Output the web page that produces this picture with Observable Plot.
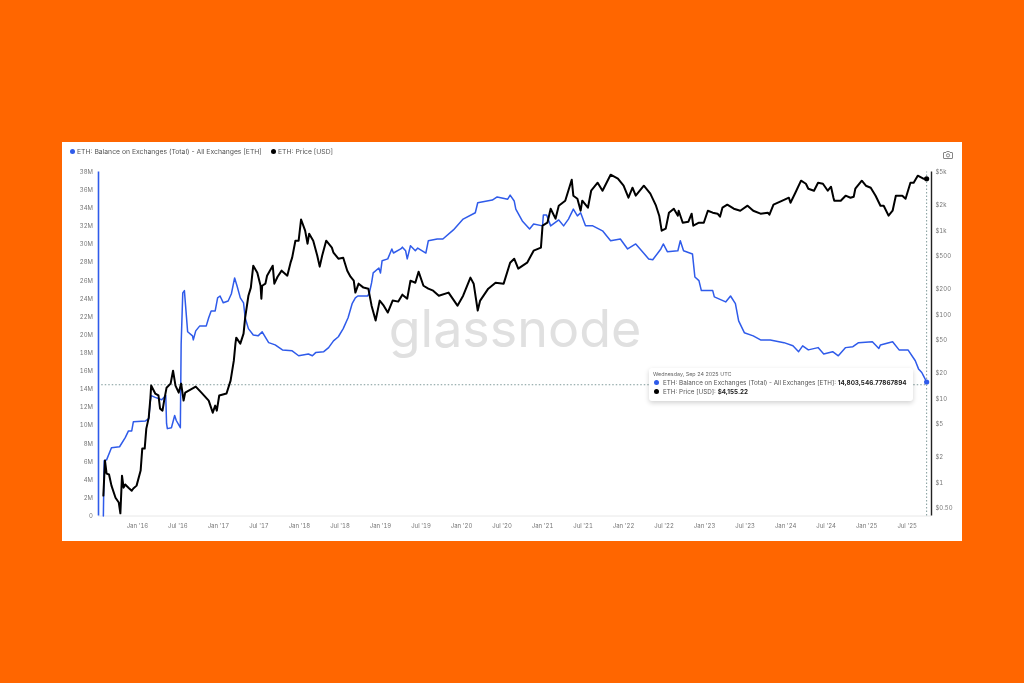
<!DOCTYPE html>
<html><head><meta charset="utf-8">
<script src="https://cdn.jsdelivr.net/npm/d3@7"></script>
<script src="https://cdn.jsdelivr.net/npm/@observablehq/plot@0.6"></script>
<style>
html,body{margin:0;padding:0;width:1024px;height:683px;background:#ff6600;overflow:hidden;font-family:Inter,sans-serif}
#panel{position:absolute;left:62px;top:142px;width:900px;height:399px;background:#fff;filter:blur(.45px)}
#panel svg.chart{position:absolute;left:0;top:0;background:transparent}
.leg{position:absolute;top:5px;font-size:6.8px;line-height:9px;color:#555;white-space:nowrap}
.dot{display:inline-block;width:5px;height:5px;border-radius:50%;margin-right:2px;vertical-align:0}
#tip{position:absolute;left:587px;top:226px;width:264px;height:33px;background:#fff;border-radius:3px;box-shadow:0 2px 5px rgba(0,0,0,.18);font-size:6.3px;color:#555}
#tip div{position:absolute;left:5px;white-space:nowrap;line-height:9px}
#tip b{color:#222;font-weight:700}
#cam{position:absolute;left:881px;top:9px}
</style></head>
<body><div id="panel">
<div class="leg" style="left:8px"><span class="dot" style="background:#2f5bea"></span>ETH: Balance on Exchanges (Total) - All Exchanges [ETH]</div>
<div class="leg" style="left:209px"><span class="dot" style="background:#000"></span>ETH: Price [USD]</div>
<svg id="cam" width="10" height="8" viewBox="0 0 10 8"><path d="M1 1.5h2l.7-1h2.6l.7 1h2a.5.5 0 0 1 .5.5v5a.5.5 0 0 1-.5.5H1a.5.5 0 0 1-.5-.5V2a.5.5 0 0 1 .5-.5z" fill="none" stroke="#777" stroke-width=".9"/><circle cx="5" cy="4.4" r="1.6" fill="none" stroke="#777" stroke-width=".9"/></svg>
</div>
<script>
const balanceYears=[2015.58,2015.59,2015.62,2015.68,2015.78,2015.85,2015.89,2015.93,2015.95,2016.10,2016.14,2016.16,2016.17,2016.22,2016.30,2016.35,2016.36,2016.37,2016.42,2016.46,2016.48,2016.53,2016.54,2016.56,2016.58,2016.62,2016.68,2016.69,2016.72,2016.77,2016.85,2016.88,2016.91,2016.96,2016.99,2017.02,2017.06,2017.12,2017.16,2017.20,2017.23,2017.27,2017.31,2017.33,2017.37,2017.43,2017.49,2017.54,2017.59,2017.62,2017.70,2017.79,2017.91,2017.99,2018.11,2018.16,2018.20,2018.30,2018.36,2018.42,2018.48,2018.54,2018.60,2018.65,2018.69,2018.72,2018.84,2018.86,2018.89,2018.91,2018.98,2019.00,2019.02,2019.09,2019.14,2019.16,2019.25,2019.27,2019.31,2019.33,2019.37,2019.43,2019.46,2019.56,2019.59,2019.70,2019.77,2019.90,2020.02,2020.17,2020.20,2020.38,2020.44,2020.57,2020.60,2020.65,2020.67,2020.75,2020.84,2020.89,2021.00,2021.01,2021.05,2021.10,2021.20,2021.26,2021.32,2021.38,2021.43,2021.47,2021.53,2021.62,2021.74,2021.84,2021.96,2022.05,2022.15,2022.31,2022.36,2022.46,2022.49,2022.54,2022.67,2022.70,2022.74,2022.85,2022.88,2022.93,2022.96,2023.10,2023.12,2023.26,2023.32,2023.38,2023.42,2023.49,2023.60,2023.69,2023.81,2023.98,2024.09,2024.16,2024.21,2024.28,2024.40,2024.47,2024.58,2024.65,2024.74,2024.83,2024.90,2025.07,2025.15,2025.17,2025.32,2025.40,2025.51,2025.60,2025.64,2025.68,2025.70,2025.74];
const balanceMillions=[0,6.1,6.2,7.55,7.65,8.65,9.4,9.4,10.4,10.5,10.75,12.7,13.3,13.1,12.85,13.3,10.2,9.65,9.75,11.1,10.55,9.75,19,24.65,24.9,20.35,19.9,19.45,20.45,21,21,21.9,22.65,22.65,24.1,24.3,23.55,23.75,24.55,26.3,25.4,24.1,23.55,21.9,20.7,20,19.9,20.35,19.6,19.15,18.9,18.35,18.25,17.7,17.9,17.7,18.05,18.15,18.6,19.35,19.8,20.7,21.9,23.45,24.1,24.3,24.3,24.55,25.75,26.85,27.4,26.85,28.2,28.4,29.5,29.05,29.5,29.7,29.3,28.4,29.85,29.3,29.6,29.05,30.4,30.6,30.6,31.6,32.8,33.5,34.6,34.9,35.25,35,35.45,34.8,33.9,32.6,31.7,32.25,32.05,33.25,33.25,32.05,32.7,32.05,32.8,33.9,33.15,33.5,32.05,32.05,31.5,30.4,30.6,29.5,30.05,28.4,28.3,29.5,30.05,29.2,29.3,30.4,29.3,28.95,26.4,26,24.9,24.9,24.2,23.65,24.3,23.45,21.55,20.25,19.9,19.45,19.45,19.15,18.8,18.15,18.8,18.35,18.6,17.9,18.15,17.7,18.6,18.7,19.15,19.25,18.5,18.9,19.25,18.35,18.35,17.15,16.25,15.85,15.5,14.8];
const priceYears=[2015.58,2015.60,2015.62,2015.65,2015.68,2015.73,2015.77,2015.79,2015.81,2015.83,2015.85,2015.89,2015.93,2015.95,2015.99,2016.04,2016.06,2016.09,2016.11,2016.14,2016.16,2016.17,2016.22,2016.26,2016.28,2016.31,2016.33,2016.36,2016.41,2016.44,2016.47,2016.51,2016.54,2016.57,2016.59,2016.72,2016.79,2016.88,2016.93,2016.96,2016.98,2017.01,2017.10,2017.15,2017.19,2017.21,2017.22,2017.27,2017.31,2017.33,2017.37,2017.40,2017.43,2017.48,2017.52,2017.53,2017.54,2017.58,2017.60,2017.67,2017.69,2017.73,2017.78,2017.85,2017.89,2017.91,2017.95,2017.99,2018.02,2018.07,2018.10,2018.12,2018.17,2018.22,2018.25,2018.28,2018.33,2018.40,2018.42,2018.48,2018.54,2018.59,2018.63,2018.67,2018.69,2018.73,2018.79,2018.85,2018.89,2018.94,2018.99,2019.04,2019.09,2019.15,2019.22,2019.27,2019.33,2019.37,2019.43,2019.47,2019.53,2019.59,2019.65,2019.72,2019.84,2019.95,2020.02,2020.11,2020.15,2020.20,2020.23,2020.33,2020.42,2020.52,2020.60,2020.65,2020.70,2020.81,2020.89,2020.98,2021.00,2021.06,2021.10,2021.16,2021.20,2021.28,2021.36,2021.38,2021.43,2021.47,2021.49,2021.56,2021.60,2021.68,2021.74,2021.84,2021.93,2022.00,2022.06,2022.11,2022.15,2022.25,2022.33,2022.40,2022.44,2022.47,2022.52,2022.56,2022.62,2022.67,2022.68,2022.73,2022.80,2022.84,2022.86,2022.93,2022.99,2023.04,2023.10,2023.16,2023.19,2023.22,2023.28,2023.36,2023.44,2023.53,2023.60,2023.69,2023.78,2023.80,2023.85,2023.96,2024.04,2024.06,2024.12,2024.19,2024.25,2024.28,2024.35,2024.40,2024.46,2024.52,2024.56,2024.59,2024.60,2024.68,2024.74,2024.80,2024.84,2024.86,2024.94,2024.99,2025.05,2025.11,2025.17,2025.21,2025.27,2025.32,2025.36,2025.44,2025.48,2025.54,2025.58,2025.63,2025.70,2025.74];
const priceUsd=[.70,1.83,1.28,1.25,.92,.66,.58,.43,1.21,.87,.95,.87,.80,.85,.92,1.39,2.54,2.54,4.39,5.94,10,14.3,11.5,10.9,7.6,7.2,9.47,13.5,15.1,21.5,14.3,11.8,15.1,9.47,11.8,13.9,11.8,9.47,6.8,8.26,7.2,10.9,11.5,16.4,28.3,45.2,53.2,45.2,59.4,92,168,210,383,316,221,155,221,234,291,383,234,283,334,291,416,477,760,760,1360,1000,700,921,760,504,373,504,760,628,547,464,477,334,283,254,183,234,210,204,128,85,147,128,106,147,143,173,155,254,240,325,221,204,193,168,183,128,168,276,234,112,147,204,240,234,416,464,353,416,578,628,1147,1245,1828,1390,1985,2276,4050,2611,2404,1730,2276,1879,2994,3727,2994,4640,4160,3433,2471,3250,2611,3433,2758,1985,1509,1000,1057,1638,1828,1509,1730,1245,1280,1594,1147,1245,1245,1730,1638,1594,1468,1879,2040,1828,1730,1985,1730,1594,1638,1551,2040,2276,2471,2154,2835,3940,3625,3162,2994,3727,3625,2994,3340,2471,2276,2276,2611,2471,2540,3162,3940,3433,3250,2611,1985,1985,1509,1730,2611,2611,2404,3727,3727,4515,4160,4155.22];
const balanceTicks=d3.range(0,39,2);
const priceTicks=[0.5,1,2,5,10,20,50,100,200,500,1000,2000,5000];
const priceLabels=["$0.50","$1","$2","$5","$10","$20","$50","$100","$200","$500","$1k","$2k","$5k"];
const timeTickYears=[2016,2016.5,2017,2017.5,2018,2018.5,2019,2019.5,2020,2020.5,2021,2021.5,2022,2022.5,2023,2023.5,2024,2024.5,2025,2025.5];
const timeTickLabels=["Jan '16","Jul '16","Jan '17","Jul '17","Jan '18","Jul '18","Jan '19","Jul '19","Jan '20","Jul '20","Jan '21","Jul '21","Jan '22","Jul '22","Jan '23","Jul '23","Jan '24","Jul '24","Jan '25","Jul '25"];
const BLUE="#2f5bea";
const yearToDate=t=>new Date(Date.UTC(2016,0,1)+(t-2016)*365.25*864e5);
// price axis is logarithmic, spanning $0.40 to $5k over the same frame as the 0–38M balance axis
const priceToLeft=p=>(Math.log10(p)-Math.log10(0.4))/(Math.log10(5000)-Math.log10(0.4))*38;
const balance=balanceYears.map((t,i)=>({d:yearToDate(t),v:balanceMillions[i]}));
const price=priceYears.map((t,i)=>({d:yearToDate(t),v:priceToLeft(priceUsd[i])}));
const xMin=yearToDate(2015.52), xMax=yearToDate(2025.80), end=yearToDate(2025.74);
const axisStyle={tickSize:0,fontSize:6,color:"#777",label:null};
const chart=Plot.plot({
  width:900,height:399,marginLeft:36,marginRight:31,marginTop:29.5,marginBottom:25.5,
  style:{background:"transparent",fontFamily:"Inter,sans-serif",overflow:"visible"},
  x:{type:"utc",domain:[xMin,xMax],label:null},
  y:{domain:[0,38],label:null},
  marks:[
    Plot.text(["glassnode"],{frameAnchor:"middle",dy:-14,fontSize:52,fontWeight:400,fill:"#e0e0e0",fontFamily:"Inter,sans-serif"}),
    Plot.ruleY([0],{stroke:"#e8e8e8",strokeWidth:1}),
    Plot.axisY(balanceTicks,{...axisStyle,anchor:"left",tickPadding:5.5,tickFormat:d=>d===0?"0":d+"M"}),
    Plot.axisY(priceTicks.map(priceToLeft),{...axisStyle,anchor:"right",tickPadding:4,tickFormat:(d,i)=>priceLabels[i]}),
    Plot.axisX(timeTickYears.map(yearToDate),{...axisStyle,anchor:"bottom",tickPadding:8,tickFormat:(d,i)=>timeTickLabels[i]}),
    Plot.ruleX([xMin],{y1:0,y2:38,stroke:BLUE,strokeWidth:1.6}),
    Plot.ruleX([xMax],{y1:0,y2:38,stroke:"#222",strokeWidth:1.4}),
    Plot.ruleY([14.5],{x1:yearToDate(2015.56),x2:end,stroke:"#7f9a9a",strokeWidth:1,strokeDasharray:"1.5,2"}),
    Plot.ruleX([end],{y1:0,y2:38,stroke:"#7f9a9a",strokeWidth:1,strokeDasharray:"1.5,2"}),
    Plot.line(balance,{x:"d",y:"v",stroke:BLUE,strokeWidth:1.5,curve:"linear"}),
    Plot.line(price,{x:"d",y:"v",stroke:"#000",strokeWidth:2,curve:"linear"}),
    Plot.dot([balance[balance.length-1]],{x:"d",y:"v",r:2.6,fill:BLUE}),
    Plot.dot([price[price.length-1]],{x:"d",y:"v",r:2.6,fill:"#000"})
  ]
});
chart.classList.add("chart");
const panel=document.getElementById("panel");
panel.insertBefore(chart,panel.firstChild);
const tip=document.createElement("div");
tip.id="tip";
tip.innerHTML=`<div style="top:1.5px;font-size:5.4px;color:#666;left:4px">Wednesday, Sep 24 2025 UTC</div>
<div style="top:11px"><span class="dot" style="background:${BLUE};margin-right:4px"></span>ETH: Balance on Exchanges (Total) - All Exchanges [ETH]: <b>14,803,546.77867894</b></div>
<div style="top:20px"><span class="dot" style="background:#000;margin-right:4px"></span>ETH: Price [USD]: <b>$4,155.22</b></div>`;
panel.appendChild(tip);
</script>
</body></html>
